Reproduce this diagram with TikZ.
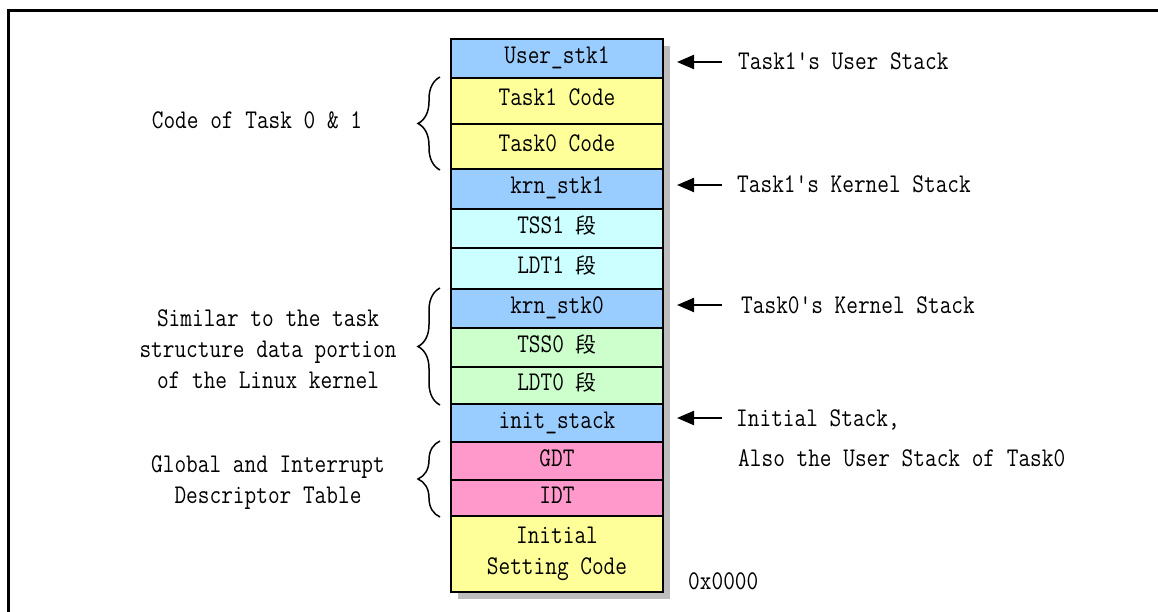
\documentclass[tikz,border=0pt]{standalone}
\usepackage{fontspec}
\newfontfamily\mono{Latin Modern Mono}[FakeStretch=0.84]
\newfontfamily\cjk{Noto Sans CJK SC}
\usetikzlibrary{arrows.meta,decorations.pathreplacing}
\newcommand\duan{{\cjk\fontsize{21}{21}\selectfont 段}}
\definecolor{cblue}{HTML}{99CCFF}
\definecolor{cyel}{HTML}{FFFF99}
\definecolor{ccyan}{HTML}{CCFFFF}
\definecolor{cgreen}{HTML}{CCFFCC}
\definecolor{cpink}{HTML}{FF99CC}
\definecolor{cshadow}{HTML}{BDBDBD}
\begin{document}
\begin{tikzpicture}[x=1pt,y=-1pt,
  txt/.style={font=\mono\fontsize{27}{31}\selectfont},
  cell/.style={txt,draw,line width=2,minimum width=212,inner sep=0,
    anchor=north west,align=center,text height=15,text depth=5},
  bigcell/.style={txt,draw,line width=2,minimum width=212,inner sep=0,
    anchor=north west,align=center},
  lab/.style={txt,anchor=west,inner sep=0,text height=21,text depth=5},
  note/.style={txt,align=center,inner sep=0},
  arr/.style={line width=2.2,-{Triangle[length=17,width=14]}},
  brc/.style={line width=1.5,decorate,decoration={brace,amplitude=22}}
]
\clip (0,0) rectangle (1158,612);
\useasboundingbox (0,0) rectangle (1158,612);
\fill[white] (0,0) rectangle (1158,612);
\draw[line width=3] (8,10.5) rectangle (1200,650);
% shadow
\fill[cshadow] (458,46) rectangle (670,599);
% memory cells
\node[cell,fill=cblue,minimum height=39] (us1) at (450,38) {User\_stk1};
\node[cell,fill=cyel,minimum height=46] (t1c) at (450,77) {Task1 Code};
\node[cell,fill=cyel,minimum height=45] (t0c) at (450,123) {Task0 Code};
\node[cell,fill=cblue,minimum height=40] (ks1) at (450,168) {krn\_stk1};
\node[cell,fill=ccyan,minimum height=39] (tss1) at (450,208) {TSS1 \duan};
\node[cell,fill=ccyan,minimum height=41] (ldt1) at (450,247) {LDT1 \duan};
\node[cell,fill=cblue,minimum height=39] (ks0) at (450,288) {krn\_stk0};
\node[cell,fill=cgreen,minimum height=39] (tss0) at (450,327) {TSS0 \duan};
\node[cell,fill=cgreen,minimum height=37] (ldt0) at (450,366) {LDT0 \duan};
\node[cell,fill=cblue,minimum height=38] (init) at (450,403) {init\_stack};
\node[cell,fill=cpink,minimum height=38] (gdt) at (450,441) {GDT};
\node[cell,fill=cpink,minimum height=36] (idt) at (450,479) {IDT};
\node[bigcell,fill=cyel,minimum height=76] (isc) at (450,515) {Initial\\Setting Code};
% right labels
\node[lab] (l1) at (738,62) {Task1's User Stack};
\node[lab] (l2) at (737,185) {Task1's Kernel Stack};
\node[lab] (l3) at (741,305) {Task0's Kernel Stack};
\node[lab] (l4) at (736,418) {Initial Stack,};
\node[lab] (l5) at (738,458) {Also the User Stack of Task0};
\node[lab] (hex) at (688,581) {0x0000};
% arrows
\draw[arr] ([xshift=-16]l1.west) -- ([xshift=13]us1.east |- l1.west);
\draw[arr] ([xshift=-15]l2.west) -- ([xshift=13]ks1.east |- l2.west);
\draw[arr] ([xshift=-19]l3.west) -- ([xshift=13]ks0.east |- l3.west);
\draw[arr] ([xshift=-14]l4.west) -- ([xshift=13]init.east |- l4.west);
% left notes
\node[note] (n1) at (257,120) {Code of Task 0 \& 1};
\node[note] (n2) at (268,349) {Similar to the task\\structure data portion\\of the Linux kernel};
\node[note] (n3) at (268,483) {Global and Interrupt\\Descriptor Table};
% braces
\draw[brc] ([xshift=-10]t0c.south west) -- ([xshift=-10]t1c.north west);
\draw[brc] ([xshift=-10]ldt0.south west) -- ([xshift=-10]ks0.north west);
\draw[brc] ([xshift=-10]idt.south west) -- ([xshift=-10]gdt.north west);
\end{tikzpicture}
\end{document}
